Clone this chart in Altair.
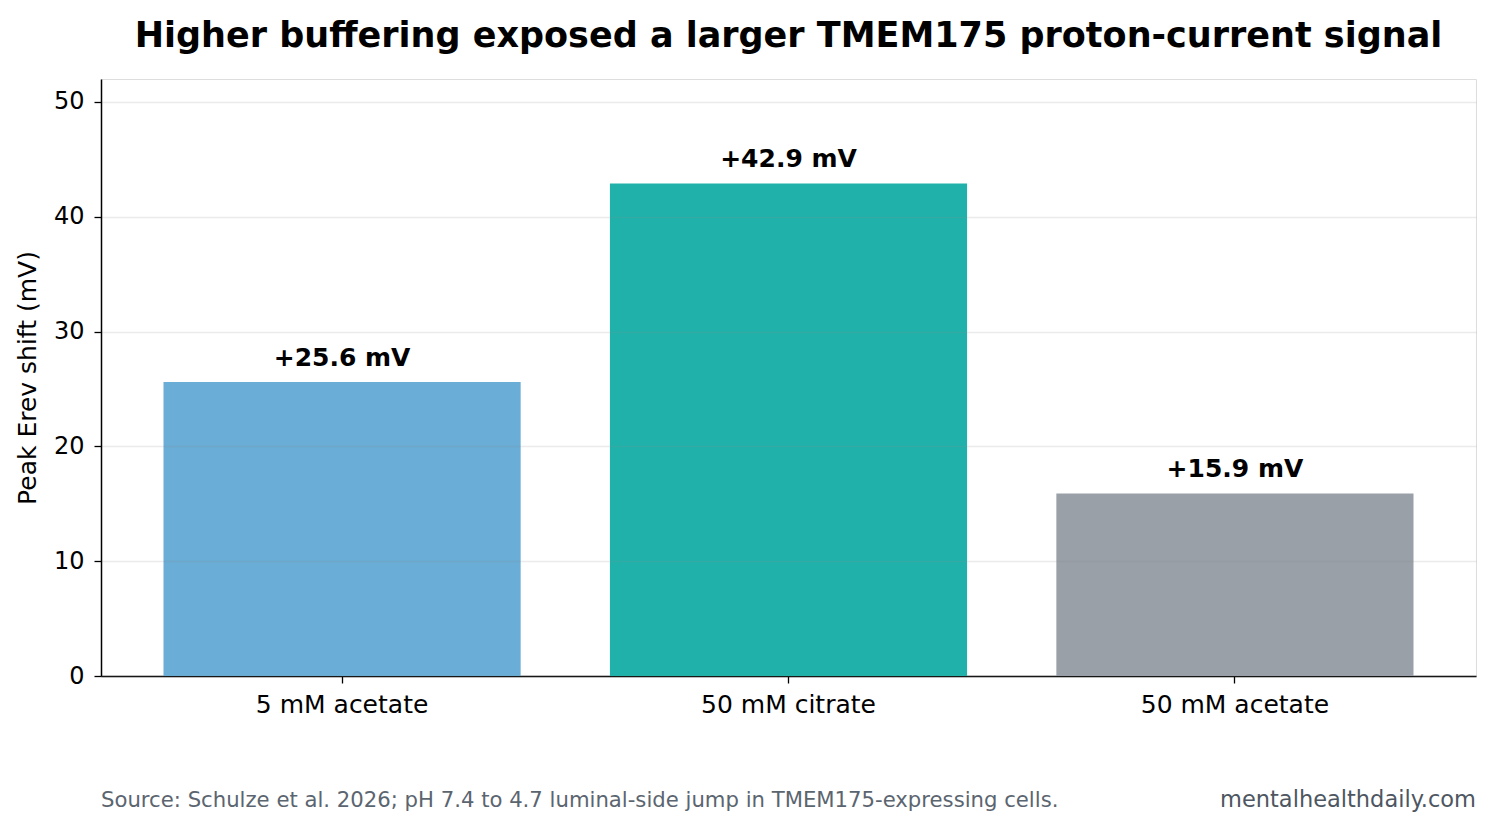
import altair as alt
import pandas as pd

categories = ["5 mM acetate", "50 mM citrate", "50 mM acetate"]
values = [25.6, 42.9, 15.9]
labels = ["+25.6 mV", "+42.9 mV", "+15.9 mV"]
colors = ["#6aadd6", "#20b2aa", "#9aa0a8"]

TITLE = "Higher buffering exposed a larger TMEM175 proton-current signal"
SOURCE = "Source: Schulze et al. 2026; pH 7.4 to 4.7 luminal-side jump in TMEM175-expressing cells."
SITE = "mentalhealthdaily.com"

W, H = 1375, 597
FONT = "DejaVu Sans"

df = pd.DataFrame({"cat": categories, "val": values, "lab": labels, "col": colors})

x = alt.X("cat:N", sort=categories, title=None,
          scale=alt.Scale(paddingInner=0.2, paddingOuter=0.14),
          axis=alt.Axis(labelAngle=0, labelFontSize=25, labelFont=FONT, labelColor="black",
                        labelLimit=600,
                        tickSize=7, tickColor="black", tickWidth=1.3, labelPadding=9,
                        domainColor="black", domainWidth=1.5, grid=False))
y = alt.Y("val:Q", title="Peak Erev shift (mV)",
          scale=alt.Scale(domain=[0, 52], nice=False),
          axis=alt.Axis(values=[0, 10, 20, 30, 40, 50], labelFontSize=24, labelFont=FONT,
                        labelColor="black", tickSize=7, tickColor="black", tickWidth=1.3,
                        labelPadding=10, domainColor="black", domainWidth=1.5,
                        titleFont=FONT, titleFontSize=25, titleFontWeight="normal",
                        titleColor="black", titlePadding=13,
                        grid=True, gridColor="#888888", gridOpacity=0.17, gridWidth=1.3,
                        zindex=1))

bars = alt.Chart(df).mark_bar().encode(
    x=x, y=y, color=alt.Color("col:N", scale=None)
)

text = alt.Chart(df).mark_text(
    font=FONT, fontSize=25, fontWeight="bold", color="black",
    baseline="alphabetic", dy=-16
).encode(x=alt.X("cat:N", sort=categories), y="val:Q", text="lab:N")

foot_df = pd.DataFrame({"t": [SOURCE]})
foot = alt.Chart(foot_df).mark_text(
    font=FONT, fontSize=21.2, color="#5b6570", align="left", baseline="alphabetic"
).encode(x=alt.value(0), y=alt.value(H + 131), text="t:N")

site_df = pd.DataFrame({"t": [SITE]})
site = alt.Chart(site_df).mark_text(
    font=FONT, fontSize=22.5, color="#4d5661", align="right", baseline="alphabetic"
).encode(x=alt.value(W), y=alt.value(H + 131), text="t:N")

chart = alt.layer(bars, text, foot, site).properties(
    width=W, height=H,
    title=alt.TitleParams(TITLE, font=FONT, fontSize=35, fontWeight="bold",
                          color="black", anchor="middle", offset=25),
    autosize=alt.AutoSizeParams(type="none"),
    padding={"left": 101, "top": 79, "right": 17, "bottom": 154},
).configure_view(stroke="black", strokeWidth=1.5).configure(background="white")

chart.save("out.html", embed_options={"renderer": "svg", "actions": False})
